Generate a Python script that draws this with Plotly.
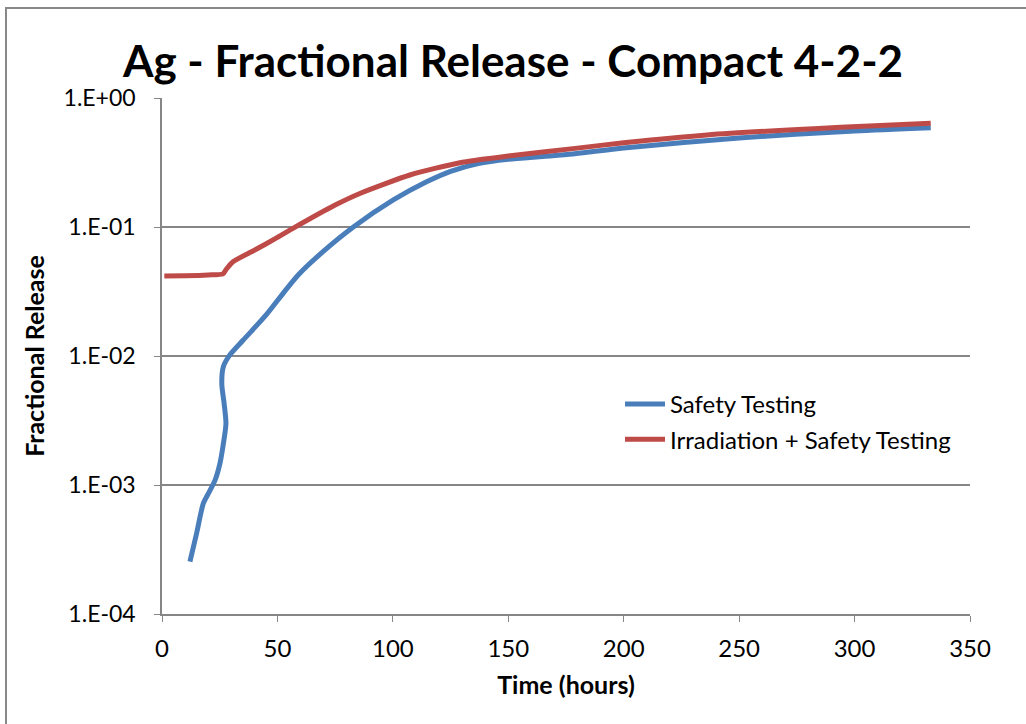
import plotly.graph_objects as go

# Safety Testing (blue)
st_time = [12.1, 15.0, 17.9, 20.1, 23.0, 25.1, 26.6, 27.7, 26.9, 25.9, 26.6, 29.4, 35.2, 45.3,
           53.3, 59.0, 70.0, 82.9, 100.2, 114.6, 125.0, 137.0, 150.0, 165.0, 178.0, 200.0,
           250.0, 300.0, 333.0]
st_frac = [2.55e-4, 4.23e-4, 7.2e-4, 8.6e-4, 1.09e-3, 1.47e-3, 2.1e-3, 3.0e-3, 4.3e-3, 6.1e-3,
           8.3e-3, 1.02e-2, 1.33e-2, 2.1e-2, 3.2e-2, 4.25e-2, 6.5e-2, 0.10, 0.162, 0.224, 0.270,
           0.310, 0.335, 0.352, 0.368, 0.41, 0.49, 0.555, 0.588]

# Irradiation + Safety Testing (red)
irr_time = [1.0, 10.0, 20.0, 26.4, 28.0, 30.9, 40.0, 50.0, 56.9, 75.0, 85.7, 107.4, 129.0,
            150.0, 178.0, 200.0, 236.0, 294.0, 333.0]
irr_frac = [0.0417, 0.0419, 0.0425, 0.0433, 0.0475, 0.054, 0.066, 0.083, 0.098, 0.148, 0.182,
            0.253, 0.315, 0.355, 0.405, 0.45, 0.517, 0.593, 0.637]

y_tickvals = [1e-4, 1e-3, 1e-2, 1e-1, 1]
y_ticktext = ["1.E-04", "1.E-03", "1.E-02", "1.E-01", "1.E+00"]
x_tickvals = [0, 50, 100, 150, 200, 250, 300, 350]

FONT = "Lato"
GRID = "#868686"

fig = go.Figure()
fig.add_trace(go.Scatter(x=st_time, y=st_frac, mode="lines", name="Safety Testing",
                         legendgroup="a",
                         line=dict(color="#4A7EBB", width=5, shape="spline", smoothing=0.7)))
fig.add_trace(go.Scatter(x=irr_time, y=irr_frac, mode="lines", name="Irradiation + Safety Testing",
                         legendgroup="b",
                         line=dict(color="#BE4B48", width=5, shape="spline", smoothing=0.6)))

L, R, T, B = 162, 56, 98, 110
W, H = 1026, 724
pw, ph = W - L - R, H - T - B

fig.update_layout(
    width=W, height=H,
    margin=dict(l=L, r=R, t=T, b=B),
    paper_bgcolor="white", plot_bgcolor="white",
    font=dict(family=FONT, size=23, color="black"),
    title=dict(text="<b>Ag - Fractional Release - Compact 4-2-2</b>",
               font=dict(family=FONT, size=44, color="black"),
               x=0.5, xanchor="center", y=1 - 62 / H, yanchor="middle"),
    showlegend=True,
    legend=dict(x=(620 - L) / pw, y=(614 - 382) / ph, xanchor="left", yanchor="top",
                bgcolor="rgba(0,0,0,0)", font=dict(family=FONT, size=24),
                tracegroupgap=1, itemwidth=40),
    xaxis=dict(range=[0, 350], tickvals=x_tickvals, showgrid=False, zeroline=False,
               showline=True, linecolor=GRID, linewidth=1.5,
               ticks="outside", ticklen=6, tickcolor=GRID, ticklabelstandoff=6,
               title=dict(text="<b>Time (hours)</b>", font=dict(family=FONT, size=25), standoff=16),
               tickfont=dict(family=FONT, size=24)),
    yaxis=dict(type="log", range=[-4, 0], tickvals=y_tickvals, ticktext=y_ticktext,
               showgrid=True, gridcolor=GRID, gridwidth=1.5, zeroline=False,
               showline=True, linecolor=GRID, linewidth=1.5,
               ticks="outside", ticklen=6, tickcolor=GRID, ticklabelstandoff=14,
               title=dict(text="<b>Fractional Release</b>", font=dict(family=FONT, size=25), standoff=12),
               tickfont=dict(family=FONT, size=23)),
    shapes=[dict(type="rect", xref="paper", yref="paper",
                 x0=(6 - L) / pw, x1=(1100 - L) / pw,
                 y0=(T + ph - 800) / ph, y1=(T + ph - 8) / ph,
                 line=dict(color="#888888", width=2), fillcolor="rgba(0,0,0,0)", layer="below")],
)

fig.write_html("out.html")
